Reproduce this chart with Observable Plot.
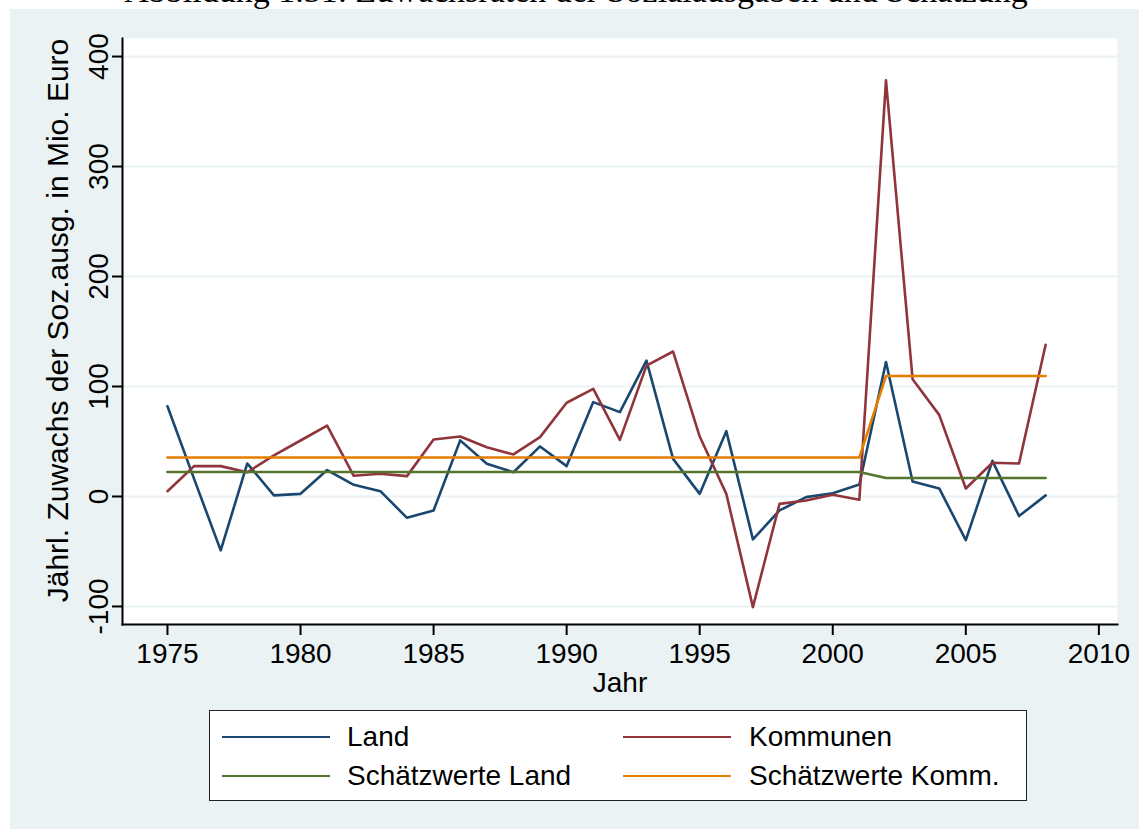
<!DOCTYPE html>
<html><head><meta charset="utf-8">
<script src="https://cdn.jsdelivr.net/npm/d3@7"></script>
<script src="https://cdn.jsdelivr.net/npm/@observablehq/plot@0.6"></script>
<style>
html,body{margin:0;padding:0;background:#fff;overflow:hidden;}
#page{position:relative;width:1139px;height:829px;overflow:hidden;font-family:"Liberation Sans",Arial,sans-serif;color:#000;}
#title{position:absolute;left:0;top:0;width:1139px;height:9px;overflow:hidden;background:#fff;}
#title span{position:absolute;left:0;top:-26px;width:1152px;text-align:center;font-family:"Liberation Serif","DejaVu Serif",serif;font-size:34px;line-height:34px;white-space:nowrap;}
#bg{position:absolute;left:10px;top:9px;width:1129px;height:820px;background:#eaf2f3;}
#chart{position:absolute;left:10px;top:9px;}
#legend{position:absolute;left:209px;top:710px;width:818px;height:91px;background:#fff;border:1.5px solid #222;box-sizing:border-box;}
.sw{position:absolute;height:2.5px;width:108px;}
.lt{position:absolute;font-size:28px;line-height:28px;white-space:nowrap;}
</style>
</head><body>
<div id="page">
  <div id="title"><span>Abbildung 1.31: Zuwachsraten der Sozialausgaben und Schätzung</span></div>
  <div id="bg"></div>
  <div id="chart"></div>
  <div id="legend"></div>
</div>
<script>
const years = [1975,1976,1977,1978,1979,1980,1981,1982,1983,1984,1985,1986,1987,1988,1989,1990,1991,1992,1993,1994,1995,1996,1997,1998,1999,2000,2001,2002,2003,2004,2005,2006,2007,2008];
const land = [82,16,-49,30,1,2.4,24,10.6,4.8,-19.4,-12.7,51,29.7,22,45.5,27.6,85.8,76.7,123.6,34.2,2.4,59.4,-39,-12.7,-0.6,3,10.9,122.3,13.6,7.3,-39.7,32.4,-17.8,1];
const kommunen = [4.8,27.6,27.6,22,37.3,50.9,64.5,18.8,20.6,18.5,51.8,54.5,44.8,38.2,54,85.2,97.9,51.5,119,131.8,54.5,2.4,-100.6,-6.7,-3.6,1.5,-3,378.4,106.6,74.2,7.3,30.7,30,138];
const schaetzLand = [22.2,22.2,22.2,22.2,22.2,22.2,22.2,22.2,22.2,22.2,22.2,22.2,22.2,22.2,22.2,22.2,22.2,22.2,22.2,22.2,22.2,22.2,22.2,22.2,22.2,22.2,22.2,16.8,16.8,16.8,16.8,16.8,16.8,16.8];
const schaetzKomm = [35.5,35.5,35.5,35.5,35.5,35.5,35.5,35.5,35.5,35.5,35.5,35.5,35.5,35.5,35.5,35.5,35.5,35.5,35.5,35.5,35.5,35.5,35.5,35.5,35.5,35.5,35.5,109.5,109.5,109.5,109.5,109.5,109.5,109.5];
const seriesNames = ["Land","Kommunen","Schätzwerte Land","Schätzwerte Komm."];
const seriesColors = ["#1a476f","#90353b","#55752f","#e37e00"];
const xTicks = [1975,1980,1985,1990,1995,2000,2005,2010];
const yTicks = [-100,0,100,200,300,400];
const xTitle = "Jahr";
const yTitle = "Jährl. Zuwachs der Soz.ausg. in Mio. Euro";

const seriesValues = [land, kommunen, schaetzLand, schaetzKomm];
const rows = [];
seriesNames.forEach((s, i) => years.forEach((yr, j) => rows.push({series: s, year: yr, value: seriesValues[i][j]})));

const chart = Plot.plot({
  width: 1129, height: 700,
  marginLeft: 112, marginRight: 22, marginTop: 29, marginBottom: 85,
  x: {domain: [1973.31, 2010.7]},
  y: {domain: [-116.4, 416.4]},
  color: {domain: seriesNames, range: seriesColors},
  style: {background: "transparent", fontFamily: "Liberation Sans, Arial, sans-serif", color: "#000", overflow: "visible"},
  marks: [
    Plot.frame({fill: "#fff", stroke: "none"}),
    Plot.gridY(yTicks, {stroke: "#eaf2f3", strokeOpacity: 1, strokeWidth: 2}),
    Plot.line(rows, {x: "year", y: "value", stroke: "series", z: "series", strokeWidth: 2.6}),
    Plot.frame({anchor: "left", stroke: "#000", strokeWidth: 2}),
    Plot.frame({anchor: "bottom", stroke: "#000", strokeWidth: 2}),
    Plot.axisY(yTicks, {tickSize: 10, tickRotate: -90, tickPadding: 5, fontSize: 28, label: null, strokeWidth: 2, tickFormat: d => String(d)}),
    Plot.axisX(xTicks, {tickSize: 11, tickPadding: 8, fontSize: 28, label: null, strokeWidth: 2, tickFormat: d => String(d)}),
    Plot.text([yTitle], {text: d => d, frameAnchor: "left", textAnchor: "middle", lineAnchor: "middle", rotate: -90, dx: -64, dy: -11, fontSize: 30}),
    Plot.text([xTitle], {text: d => d, frameAnchor: "bottom", textAnchor: "middle", lineAnchor: "middle", dy: 59, fontSize: 28})
  ]
});
document.getElementById("chart").appendChild(chart);

// legend (HTML, below the plot area)
const page = document.getElementById("page");
const legendPos = [
  {sx: 222, tx: 347, sy: 737, top: 723},
  {sx: 623, tx: 749, sy: 737, top: 723},
  {sx: 222, tx: 347, sy: 776, top: 762},
  {sx: 623, tx: 749, sy: 776, top: 762}
];
seriesNames.forEach((s, i) => {
  const p = legendPos[i];
  const sw = document.createElement("div");
  sw.className = "sw";
  sw.style.left = p.sx + "px";
  sw.style.top = (p.sy - 1.25) + "px";
  sw.style.background = seriesColors[i];
  page.appendChild(sw);
  const t = document.createElement("div");
  t.className = "lt";
  t.style.left = p.tx + "px";
  t.style.top = p.top + "px";
  t.textContent = s;
  page.appendChild(t);
});
</script>
</body></html>
